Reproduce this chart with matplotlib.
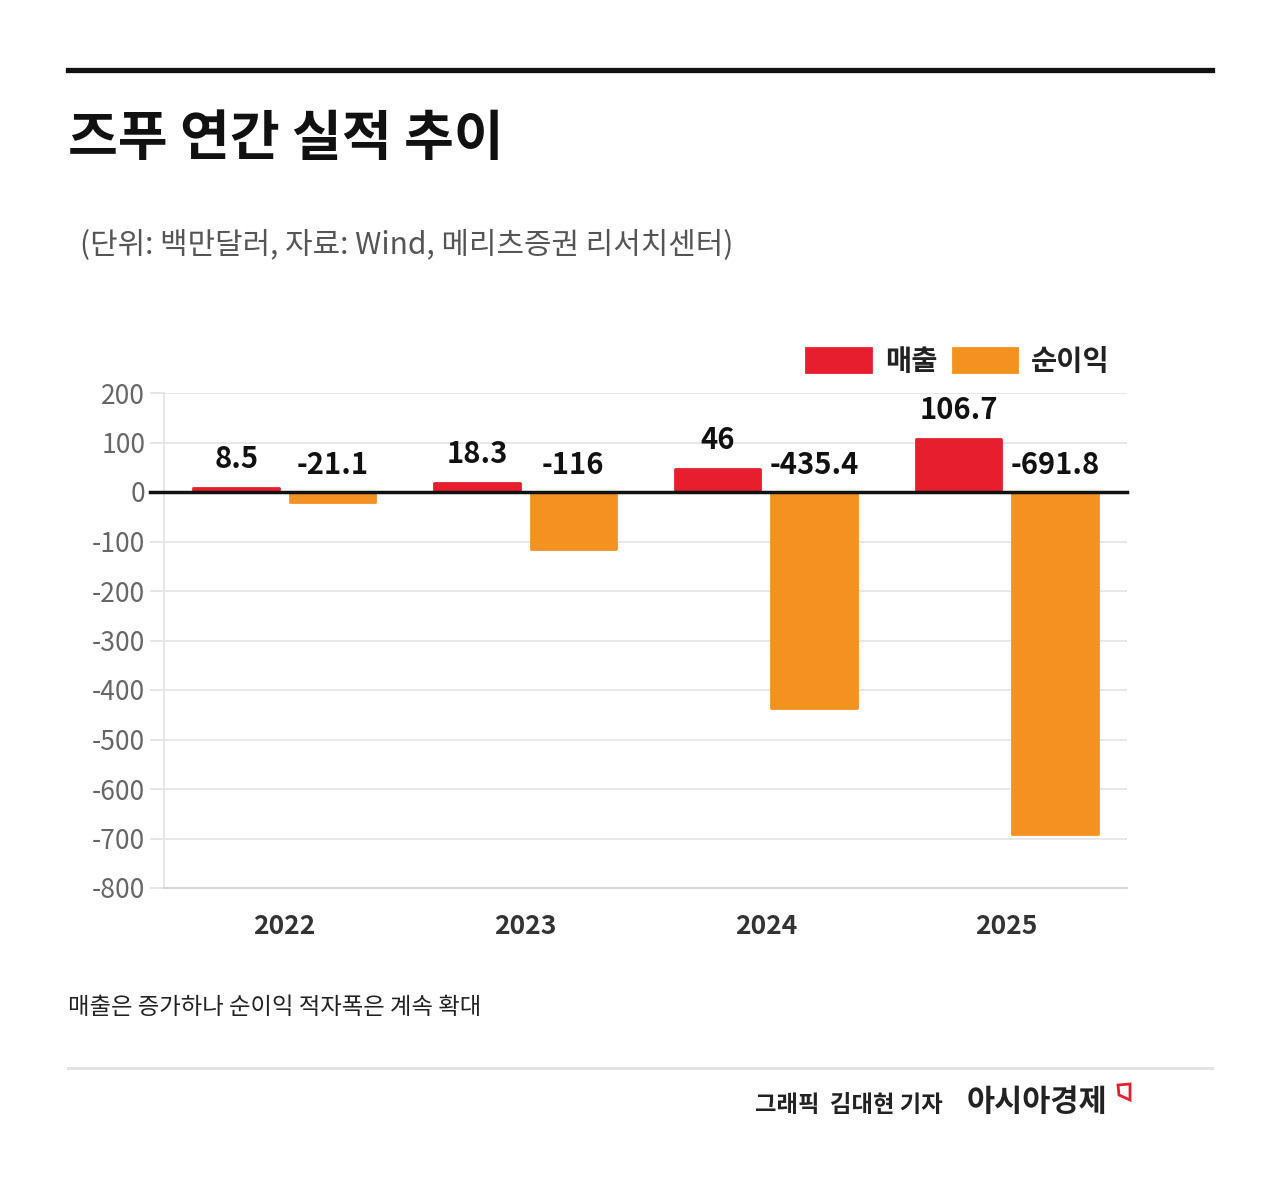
import matplotlib
matplotlib.use("Agg")
import matplotlib.pyplot as plt
from matplotlib.patches import Polygon
from matplotlib.lines import Line2D
import numpy as np

plt.rcParams['font.family'] = ['Noto Sans CJK KR', 'DejaVu Sans']

years = ['2022', '2023', '2024', '2025']
sales = [8.5, 18.3, 46, 106.7]
net_income = [-21.1, -116, -435.4, -691.8]
sales_labels = ['8.5', '18.3', '46', '106.7']
net_labels = ['-21.1', '-116', '-435.4', '-691.8']
yticks = [200, 100, 0, -100, -200, -300, -400, -500, -600, -700, -800]

RED = '#E61E2D'
ORANGE = '#F39121'

W, H = 1280, 1203
fig = plt.figure(figsize=(W / 100, H / 100), dpi=100)
fig.patch.set_facecolor('white')

def fx(px):
    return px / W

def fy(py):
    return 1 - py / H

# top black rule
fig.add_artist(Line2D([fx(68), fx(1212)], [fy(70), fy(70)], color='#111111', lw=3.8))
# bottom grey rule
fig.add_artist(Line2D([fx(68), fx(1212)], [fy(1068), fy(1068)], color='#e2e2e2', lw=2.2))

fig.text(fx(68), fy(140), '즈푸 연간 실적 추이', fontsize=39, fontweight='bold',
         color='#111111', va='center', ha='left')
fig.text(fx(80), fy(246), '(단위: 백만달러, 자료: Wind, 메리츠증권 리서치센터)', fontsize=21.5,
         color='#555555', va='center', ha='left')

ax = fig.add_axes([fx(164), fy(888), fx(1127) - fx(164), fy(393) - fy(888)])
x = np.arange(len(years))
bw = 0.355
off = 0.2
b1 = ax.bar(x - off, sales, bw, color=RED, edgecolor=RED, linewidth=2, joinstyle='round', label='매출', zorder=3)
b2 = ax.bar(x + off, net_income, bw, color=ORANGE, edgecolor=ORANGE, linewidth=2, joinstyle='round', label='순이익', zorder=3)

ax.set_xlim(-0.5, 3.5)
ax.set_ylim(-800, 200)
ax.set_yticks(yticks)
ax.set_yticklabels([str(v) for v in yticks], fontsize=19, color='#666666')
ax.set_xticks(x)
ax.set_xticklabels(years, fontsize=19, fontweight='bold', color='#333333')
ax.tick_params(axis='y', length=10, width=1.2, color='#e0e0e0', pad=3.5)
ax.tick_params(axis='x', length=0, pad=18)
ax.grid(axis='y', color='#e3e3e3', lw=1.2, zorder=0)
for s in ['top', 'right']:
    ax.spines[s].set_visible(False)
ax.spines['left'].set_color('#e3e3e3')
ax.spines['left'].set_linewidth(1.2)
ax.spines['bottom'].set_color('#d6d6d6')
ax.spines['bottom'].set_linewidth(1.5)
ax.axhline(0, color='#111111', lw=2.5, zorder=4, xmin=-14 / 963, clip_on=False)

for i in range(len(years)):
    ax.annotate(sales_labels[i], (x[i] - off, sales[i]), xytext=(0, 10), textcoords='offset points',
                ha='center', va='bottom', fontsize=21, fontweight='bold', color='#111111', zorder=5)
    ax.annotate(net_labels[i], (x[i] + off, 0), xytext=(0, 9), textcoords='offset points',
                ha='center', va='bottom', fontsize=21, fontweight='bold', color='#111111', zorder=5)

leg = ax.legend(handles=[b1, b2], loc='center right', bbox_to_anchor=(fx(1110), fy(362)),
                bbox_transform=fig.transFigure, ncol=2, frameon=False, fontsize=20.5,
                handlelength=2.25, handleheight=0.9, handletextpad=0.5, columnspacing=0.55,
                borderpad=0, borderaxespad=0)
for t in leg.get_texts():
    t.set_fontweight('bold')
    t.set_color('#222222')

fig.text(fx(68), fy(1007), '매출은 증가하나 순이익 적자폭은 계속 확대', fontsize=16.8,
         color='#222222', va='center', ha='left', fontweight='medium')
fig.text(fx(943), fy(1105), '그래픽  김대현 기자', fontsize=16.8, fontweight='bold',
         color='#222222', va='center', ha='right')
fig.text(fx(967), fy(1102), '아시아경제', fontsize=22, fontweight='black',
         color='#222222', va='center', ha='left')
fig.add_artist(Polygon([[fx(1118), fy(1085)], [fx(1130), fy(1084)], [fx(1130), fy(1100)], [fx(1119), fy(1095)]],
                       closed=True, fill=False, edgecolor=RED, lw=2, transform=fig.transFigure))

fig.savefig('out.png', dpi=100, facecolor='white')
